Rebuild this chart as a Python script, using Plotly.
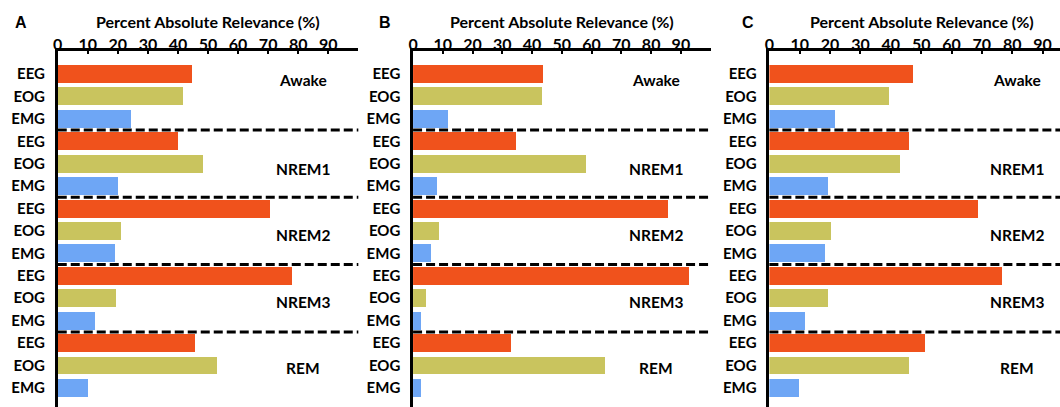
import plotly.graph_objects as go

W, H = 1060, 407

stages = ["Awake", "NREM1", "NREM2", "NREM3", "REM"]
signals = ["EEG", "EOG", "EMG"]
panels = ["A", "B", "C"]

# values[panel][signal] -> list over stages
eeg_A = [44.5, 39.8, 70.5, 77.7, 45.5]
eog_A = [41.5, 48.1, 21.0, 19.3, 53.0]
emg_A = [24.3, 20.0, 19.0, 12.3, 10.0]

eeg_B = [43.8, 34.5, 85.7, 92.6, 32.8]
eog_B = [43.5, 58.1, 8.8, 4.5, 64.6]
emg_B = [11.8, 7.9, 5.9, 2.6, 2.6]

eeg_C = [47.5, 46.1, 69.0, 76.9, 51.5]
eog_C = [39.5, 43.3, 20.4, 19.3, 46.1]
emg_C = [21.8, 19.3, 18.4, 12.0, 10.0]

values = {
    "A": [eeg_A, eog_A, emg_A],
    "B": [eeg_B, eog_B, emg_B],
    "C": [eeg_C, eog_C, emg_C],
}

x_ticks = [0, 10, 20, 30, 40, 50, 60, 70, 80, 90]
axis_title = "Percent Absolute Relevance (%)"

# ---- styles / layout ----
colors = ["#F0521C", "#C9C45E", "#6EA6F5"]
FONT = "Lato"
label_offset = [0.27, 1.25, 1.18, 1.18, 1.12]  # stage label position within group
panel_px = {"A": (53, 355), "B": (410, 709), "C": (768, 1060)}
panel_max = {"A": 100, "B": 100, "C": (1060 - 768) / 3.05}
title_cx = {"A": 204, "B": 560, "C": 921.5}
letter_cx = {"A": 16, "B": 382, "C": 747}
top_px = 51
ticklabel_axis_px = 53  # where the (line-less) tick-label axis sits

fig = go.Figure()
n_sig = len(signals)
n_slots = len(stages) * n_sig
y_top = -1.025
y_bot = 14.85

annotations = []
shapes = []
for pi, p in enumerate(panels):
    ax = "" if pi == 0 else str(pi + 1)
    xref = "x" + ax
    yref = "y" + ax
    for si, sig in enumerate(signals):
        ys = [g * n_sig + si for g in range(len(stages))]
        fig.add_trace(go.Bar(
            x=values[p][si], y=ys, orientation="h",
            marker=dict(color=colors[si], line=dict(width=0)),
            width=0.8, showlegend=False,
            xaxis=xref, yaxis=yref,
        ))
    x0, x1 = panel_px[p]
    fig.layout["xaxis" + ax] = dict(
        domain=[x0 / W, x1 / W], range=[0, panel_max[p]], side="top",
        anchor=yref, tickvals=x_ticks,
        showline=True, linecolor="black", linewidth=2.5, mirror=False,
        ticks="inside", ticklen=3, tickwidth=2, tickcolor="black",
        showgrid=False, zeroline=False, showticklabels=False,
        fixedrange=True,
    )
    # tick-label axis overlaid on the main x axis
    lab_ax = str(pi + 4)
    fig.layout["xaxis" + lab_ax] = dict(
        domain=[x0 / W, x1 / W], matches=xref, overlaying=xref,
        side="top", anchor="free", position=1 - ticklabel_axis_px / H,
        tickvals=x_ticks, ticktext=[str(t) for t in x_ticks],
        showline=False, ticks="", showgrid=False, zeroline=False,
        tickfont=dict(family=FONT, size=16, color="black", weight="bold"),
        fixedrange=True,
    )
    fig.add_trace(go.Scatter(
        x=[0], y=[0], xaxis="x" + lab_ax, yaxis=yref, mode="markers",
        marker=dict(opacity=0), showlegend=False, hoverinfo="skip",
    ))
    fig.layout["yaxis" + ax] = dict(
        domain=[0, 1 - top_px / H], range=[y_bot, y_top], anchor=xref,
        tickvals=list(range(n_slots)), ticktext=signals * len(stages),
        showline=True, linecolor="black", linewidth=2.5,
        ticks="", showgrid=False, zeroline=False,
        ticklabelstandoff=7,
        tickfont=dict(family=FONT, size=15, color="black", weight="bold"),
        fixedrange=True,
    )
    # separators
    for g in range(1, len(stages)):
        shapes.append(dict(
            type="line", xref=xref + " domain", yref=yref,
            x0=0, x1=1, y0=g * n_sig - 0.5, y1=g * n_sig - 0.5,
            line=dict(color="black", width=3, dash="9px,4px"),
        ))
    # stage labels
    for g, st in enumerate(stages):
        annotations.append(dict(
            x=81.5, y=g * n_sig + label_offset[g], xref=xref, yref=yref,
            text="<b>%s</b>" % st, showarrow=False,
            font=dict(family=FONT, size=15.5, color="black"),
            xanchor="center", yanchor="middle",
        ))
    # axis title
    annotations.append(dict(
        x=title_cx[p] / W, y=1 - 21.5 / H, xref="paper", yref="paper",
        text="<b>%s</b>" % axis_title, showarrow=False,
        font=dict(family=FONT, size=16, color="black"),
        xanchor="center", yanchor="middle",
    ))
    annotations.append(dict(
        x=letter_cx[p] / W, y=1 - 22 / H, xref="paper", yref="paper",
        text="<b>%s</b>" % p, showarrow=False,
        font=dict(family="Liberation Sans", size=16, color="black"),
        xanchor="center", yanchor="middle",
    ))

fig.update_layout(
    width=W, height=H, margin=dict(l=0, r=0, t=0, b=0),
    paper_bgcolor="white", plot_bgcolor="white",
    annotations=annotations, shapes=shapes, bargap=0,
)

fig.write_html("out.html", config={"displayModeBar": False})
